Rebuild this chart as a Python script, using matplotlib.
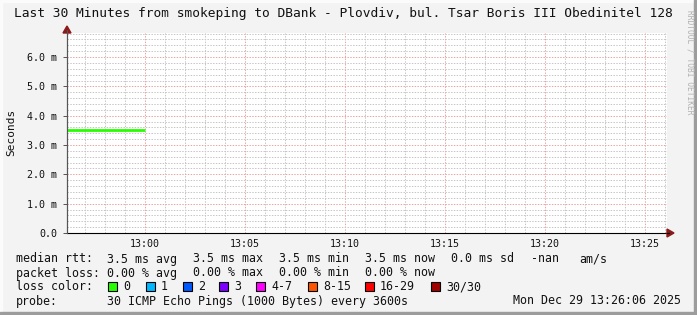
import matplotlib
matplotlib.use("Agg")
import matplotlib.pyplot as plt
import matplotlib.dates as mdates
from matplotlib.patches import Rectangle, Polygon
from datetime import datetime

# data
t_start = datetime(2025, 12, 29, 12, 56, 6)
t_end = datetime(2025, 12, 29, 13, 26, 6)
rtt_times = [datetime(2025, 12, 29, 12, 56, 6), datetime(2025, 12, 29, 13, 0, 0)]
rtt_ms = [3.5, 3.5]
y_ticks = [0, 1, 2, 3, 4, 5, 6]
y_labels = ["0.0", "1.0 m", "2.0 m", "3.0 m", "4.0 m", "5.0 m", "6.0 m"]

title = "Last 30 Minutes from smokeping to DBank - Plovdiv, bul. Tsar Boris III Obedinitel 128"
rtt_row = ["median rtt:", "3.5 ms avg", "3.5 ms max", "3.5 ms min", "3.5 ms now",
           "0.0 ms sd", "-nan", "am/s"]
loss_row = ["packet loss:", "0.00 % avg", "0.00 % max", "0.00 % min", "0.00 % now"]
loss_names = ["0", "1", "2", "3", "4-7", "8-15", "16-29", "30/30"]
loss_colors = ["#26ff00", "#00b8ff", "#0059ff", "#7e00ff", "#ff00ff", "#ff5500", "#ff0000", "#a10000"]
probe_text = "30 ICMP Echo Pings (1000 Bytes) every 3600s"
stamp = "Mon Dec 29 13:26:06 2025"

W, H = 697, 315
fig = plt.figure(figsize=(W / 100, H / 100), dpi=100)
fig.patch.set_facecolor("#f3f3f3")
mono = "DejaVu Sans Mono"


def fx(px):
    return px / W


def fy(py):
    return 1 - py / H


# plot area 67..667 x 33..233
ax = fig.add_axes([fx(67), fy(233), 600 / W, 200 / H])
ax.set_facecolor("white")
ax.set_xlim(t_start, t_end)
ax.set_ylim(0, 6.82)

# grid
dot = (0, (1.4, 1.4))
ax.xaxis.set_major_locator(mdates.MinuteLocator(byminute=range(0, 60, 5)))
ax.xaxis.set_minor_locator(mdates.MinuteLocator())
ax.xaxis.set_major_formatter(mdates.DateFormatter("%H:%M"))
ax.set_yticks(y_ticks)
ax.set_yticklabels(y_labels)
ax.set_yticks([i * 0.2 for i in range(35)], minor=True)
ax.grid(which="minor", color="#c6c6c6", linestyle=dot, linewidth=0.72)
ax.grid(which="major", color="#eaa4a4", linestyle=dot, linewidth=0.72)
ax.set_axisbelow(True)

ax.plot(rtt_times, rtt_ms, color=loss_colors[0], linewidth=2.0, solid_capstyle="butt", zorder=3)

for s in ["top", "right"]:
    ax.spines[s].set_visible(False)
ax.spines["bottom"].set_color("black")
ax.spines["left"].set_color("#555555")
ax.spines["bottom"].set_linewidth(0.8)
ax.spines["left"].set_linewidth(0.8)
ax.tick_params(axis="x", which="both", length=0, pad=4, labelsize=7.2, labelfontfamily=mono,
               labelcolor="#111111")
ax.tick_params(axis="y", which="major", length=3, width=0.7, color="#555555", pad=4,
               labelsize=7.2, labelfontfamily=mono, labelcolor="#111111")
ax.tick_params(axis="y", which="minor", length=0)

# axis arrows
fig.patches.append(Polygon([[fx(63), fy(33)], [fx(71), fy(33)], [fx(67), fy(26)]],
                           closed=True, color="#8b1a1a", transform=fig.transFigure))
fig.patches.append(Polygon([[fx(667), fy(229)], [fx(667), fy(237)], [fx(674), fy(233)]],
                           closed=True, color="#8b1a1a", transform=fig.transFigure))
fig.add_artist(plt.Line2D([fx(67), fx(67)], [fy(233), fy(30)], color="#555555", linewidth=0.8))
fig.add_artist(plt.Line2D([fx(667), fx(669)], [fy(233), fy(233)], color="black", linewidth=0.8))

# texts
fig.text(fx(343), fy(14), title, ha="center", va="center", family=mono, fontsize=9.3, color="#111111")
fig.text(fx(11), fy(132), "Seconds", ha="center", va="center", rotation=90, family=mono,
         fontsize=8, color="#111111")
fig.text(fx(690), fy(62), "RRDTOOL / TOBI OETIKER", ha="center", va="center", rotation=-90,
         family=mono, fontsize=5.7, color="#b0b0b0")

fs = 8.4
rtt_x = [16, 107, 193, 279, 365, 451, 531, 579]
for x, s in zip(rtt_x, rtt_row):
    fig.text(fx(x), fy(259), s, ha="left", va="center", family=mono, fontsize=fs, color="#111111")
for x, s in zip(rtt_x, loss_row):
    fig.text(fx(x), fy(273), s, ha="left", va="center", family=mono, fontsize=fs, color="#111111")

fig.text(fx(16), fy(287), "loss color:", ha="left", va="center", family=mono, fontsize=fs, color="#111111")
box_x = [108, 146, 183, 219, 256, 308, 365, 431]
for x, name, c in zip(box_x, loss_names, loss_colors):
    fig.patches.append(Rectangle((fx(x), fy(291)), 9 / W, 9 / H, facecolor=c, edgecolor="black",
                                 linewidth=0.8, transform=fig.transFigure))
    fig.text(fx(x + 15), fy(287), name, ha="left", va="center", family=mono, fontsize=fs, color="#111111")

fig.text(fx(16), fy(301), "probe:", ha="left", va="center", family=mono, fontsize=fs, color="#111111")
fig.text(fx(107), fy(301), probe_text, ha="left", va="center", family=mono, fontsize=fs, color="#111111")
fig.text(fx(513), fy(301), stamp, ha="left", va="center", family=mono, fontsize=fs, color="#111111")

# 3d frame
fig.patches.append(Rectangle((0, 0), fx(2), 1, color="#fbfbfb", transform=fig.transFigure))
fig.patches.append(Rectangle((0, fy(2)), 1, 2 / H, color="#fbfbfb", transform=fig.transFigure))
fig.patches.append(Rectangle((fx(694), 0), 3 / W, 1, color="#9c9c9c", transform=fig.transFigure))
fig.patches.append(Rectangle((0, 0), 1, 3 / H, color="#9c9c9c", transform=fig.transFigure))

fig.savefig("out.png", dpi=100, facecolor=fig.get_facecolor())
